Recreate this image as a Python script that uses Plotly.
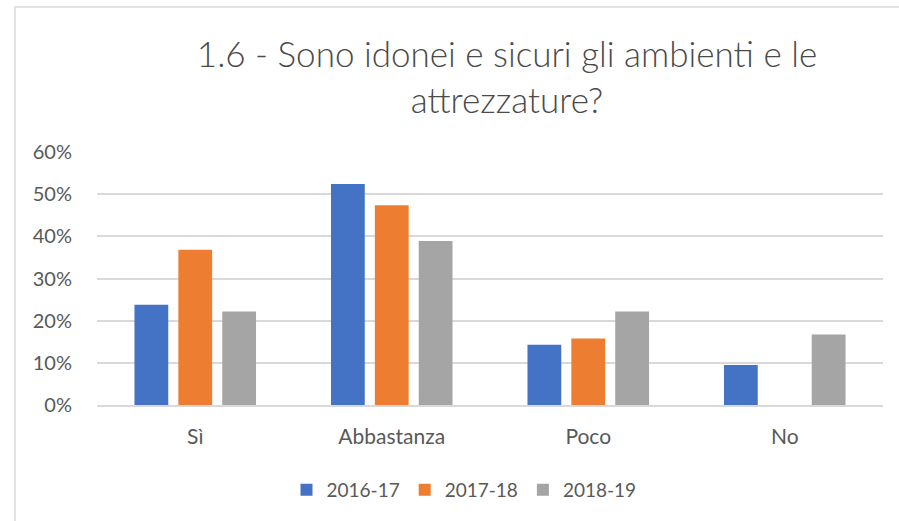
import plotly.graph_objects as go

categories = ["Sì", "Abbastanza", "Poco", "No"]
series_names = ["2016-17", "2017-18", "2018-19"]
v_2016_17 = [0.238, 0.524, 0.143, 0.095]
v_2017_18 = [0.368, 0.474, 0.158, 0.0]
v_2018_19 = [0.222, 0.389, 0.222, 0.167]
colors = ["#4472C4", "#ED7D31", "#A5A5A5"]
y_ticks = [0, 0.1, 0.2, 0.3, 0.4, 0.5, 0.6]
y_tick_labels = ["0%", "10%", "20%", "30%", "40%", "50%", "60%"]

FONT = "Lato, Open Sans, sans-serif"
TXT = "#595959"

fig = go.Figure()
for name, vals, col in zip(series_names, [v_2016_17, v_2017_18, v_2018_19], colors):
    fig.add_trace(go.Bar(x=categories, y=vals, name=name, marker_color=col,
                         marker_line_width=0))

fig.update_layout(
    width=899, height=521,
    margin=dict(l=97, r=16, t=152, b=116),
    paper_bgcolor="white", plot_bgcolor="white",
    barmode="group", bargap=0.33, bargroupgap=0.23,
    title=dict(text="1.6 - Sono idonei e sicuri gli ambienti e le<br>attrezzature?",
               x=507/899, xanchor="center", xref="container",
               y=1-67/521, yanchor="middle", yref="container",
               font=dict(family=FONT, size=35, color="#4a4a4a", weight=300)),
    font=dict(family=FONT, size=20, color=TXT),
    showlegend=True,
    legend=dict(orientation="h", x=464/899, xanchor="center", xref="container",
                y=1-490/521, yanchor="middle", yref="container",
                font=dict(family=FONT, size=19, color=TXT),
                itemwidth=30, traceorder="normal"),
    xaxis=dict(showgrid=False, showline=True, linecolor="#D9D9D9", linewidth=1.5,
               ticks="", ticklabelstandoff=12, tickfont=dict(size=21, color=TXT)),
    yaxis=dict(range=[0, 0.6], tickvals=y_ticks, ticktext=y_tick_labels,
               showgrid=True, gridcolor="#D9D9D9", gridwidth=1.5,
               zeroline=False, showline=False, ticks="",
               ticklabelstandoff=24, tickfont=dict(size=20, color=TXT)),
    shapes=[dict(type="rect", xref="paper", yref="paper",
                 xsizemode="pixel", ysizemode="pixel", xanchor=0, yanchor=1,
                 x0=-82, x1=850, y0=145, y1=-500,
                 line=dict(color="#D9D9D9", width=1.5), fillcolor="rgba(0,0,0,0)")],
)

fig.write_html("out.html", config={"displayModeBar": False},
               post_script="document.body.style.margin='0';")
